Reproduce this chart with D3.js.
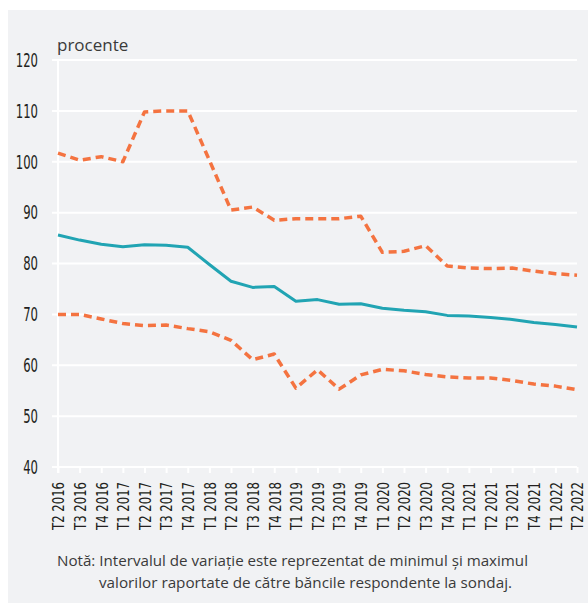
<!DOCTYPE html>
<html>
<head>
<meta charset="utf-8">
<script src="https://cdn.jsdelivr.net/npm/d3@7"></script>
<style>
  html, body { margin: 0; padding: 0; background: #ffffff; }
  #chart-container { width: 588px; height: 603px; }
</style>
</head>
<body>
<div id="chart-container"></div>
<script>
// quarters on the x axis
var quarters = [
  'T2 2016', 'T3 2016', 'T4 2016',
  'T1 2017', 'T2 2017', 'T3 2017', 'T4 2017',
  'T1 2018', 'T2 2018', 'T3 2018', 'T4 2018',
  'T1 2019', 'T2 2019', 'T3 2019', 'T4 2019',
  'T1 2020', 'T2 2020', 'T3 2020', 'T4 2020',
  'T1 2021', 'T2 2021', 'T3 2021', 'T4 2021',
  'T1 2022', 'T2 2022'
];

// average value (solid line)
var average = [
  85.6, 84.6, 83.8,
  83.3, 83.7, 83.6, 83.2,
  79.8, 76.5, 75.3, 75.5,
  72.6, 72.9, 72.0, 72.1,
  71.2, 70.8, 70.5, 69.8,
  69.7, 69.4, 69.0, 68.4,
  68.0, 67.5
];

// maximum reported (upper dashed line)
var maximum = [
  101.7, 100.3, 101.0,
  100.0, 109.8, 110.0, 110.0,
  100.3, 90.5, 91.1, 88.5,
  88.8, 88.8, 88.8, 89.3,
  82.2, 82.4, 83.5, 79.5,
  79.1, 79.0, 79.1, 78.5,
  78.0, 77.7
];

// minimum reported (lower dashed line)
var minimum = [
  70.0, 70.0, 69.1,
  68.2, 67.8, 67.9, 67.2,
  66.6, 64.9, 61.1, 62.2,
  55.5, 59.1, 55.3, 58.1,
  59.2, 58.9, 58.2, 57.7,
  57.5, 57.5, 57.0, 56.3,
  55.9, 55.2
];

var yTicks = [40, 50, 60, 70, 80, 90, 100, 110, 120];

var unitLabel = 'procente';
var noteLines = [
  'Notă: Intervalul de variație este reprezentat de minimul și maximul',
  'valorilor raportate de către băncile respondente la sondaj.'
];

document.addEventListener('DOMContentLoaded', function() {
  draw();
});

function draw() {
  const svgWidth = 588;
  const svgHeight = 603;

  const svg = d3.select('#chart-container')
    .append('svg')
    .attr('width', svgWidth)
    .attr('height', svgHeight);

  // grey panel behind everything
  svg.append('rect')
    .attr('x', 8)
    .attr('y', 10)
    .attr('width', svgWidth - 8)
    .attr('height', svgHeight - 10)
    .attr('fill', '#f1f2f4');

  const x = d3.scalePoint()
    .domain(quarters)
    .range([58, 577]);

  const y = d3.scaleLinear()
    .domain([40, 120])
    .range([467, 60]);

  const narrow = '"Liberation Sans Narrow", "DejaVu Sans Condensed", sans-serif';

  // horizontal grid lines
  svg.append('g')
    .selectAll('line')
    .data(yTicks)
    .enter()
    .append('line')
    .attr('x1', 52)
    .attr('x2', 577)
    .attr('y1', function(d) { return y(d); })
    .attr('y2', function(d) { return y(d); })
    .attr('stroke', '#ffffff')
    .attr('stroke-width', 2);

  // vertical axis line
  svg.append('line')
    .attr('x1', x(quarters[0]))
    .attr('x2', x(quarters[0]))
    .attr('y1', y(120))
    .attr('y2', y(40) + 6)
    .attr('stroke', '#ffffff')
    .attr('stroke-width', 2);

  // y labels, squeezed to the narrow width of the original face
  svg.append('g')
    .selectAll('text')
    .data(yTicks)
    .enter()
    .append('text')
    .attr('x', 38)
    .attr('y', function(d) { return y(d); })
    .attr('dy', '0.36em')
    .attr('text-anchor', 'end')
    .attr('font-family', narrow)
    .attr('font-size', 19)
    .attr('fill', '#231f20')
    .attr('textLength', function(d) { return String(d).length * 7.4; })
    .attr('lengthAdjust', 'spacingAndGlyphs')
    .text(function(d) { return d; });

  // x axis ticks and labels
  const xAxis = svg.append('g')
    .attr('transform', 'translate(0,' + y(40) + ')')
    .call(d3.axisBottom(x).tickSize(6).tickPadding(8));
  xAxis.select('.domain').remove();
  xAxis.selectAll('.tick line')
    .attr('stroke', '#ffffff')
    .attr('stroke-width', 2);
  xAxis.selectAll('.tick text')
    .attr('transform', 'rotate(-90)')
    .attr('text-anchor', 'end')
    .attr('x', -15)
    .attr('y', 0)
    .attr('dy', '0.36em')
    .attr('font-family', narrow)
    .attr('font-size', 16)
    .attr('fill', '#231f20')
    .attr('textLength', 48)
    .attr('lengthAdjust', 'spacingAndGlyphs');

  const line = d3.line()
    .x(function(d, i) { return x(quarters[i]); })
    .y(function(d) { return y(d); });

  [minimum, maximum].forEach(function(series) {
    svg.append('path')
      .datum(series)
      .attr('fill', 'none')
      .attr('stroke', '#f47340')
      .attr('stroke-width', 3.5)
      .attr('stroke-dasharray', '8,5')
      .attr('stroke-linejoin', 'round')
      .attr('d', line);
  });

  svg.append('path')
    .datum(average)
    .attr('fill', 'none')
    .attr('stroke', '#21a4b3')
    .attr('stroke-width', 3)
    .attr('stroke-linejoin', 'round')
    .attr('d', line);

  // unit label
  svg.append('text')
    .attr('x', 57)
    .attr('y', 51)
    .attr('font-family', '"Open Sans", sans-serif')
    .attr('font-size', 17)
    .attr('fill', '#3a3a3a')
    .text(unitLabel);

  // note below the chart
  svg.append('text')
    .attr('x', 57)
    .attr('y', 566)
    .attr('font-family', '"Open Sans", sans-serif')
    .attr('font-size', 14.5)
    .attr('fill', '#3a3a3a')
    .attr('textLength', 471)
    .attr('lengthAdjust', 'spacingAndGlyphs')
    .text(noteLines[0]);

  svg.append('text')
    .attr('x', 99)
    .attr('y', 588)
    .attr('font-family', '"Open Sans", sans-serif')
    .attr('font-size', 14.5)
    .attr('fill', '#3a3a3a')
    .attr('textLength', 413)
    .attr('lengthAdjust', 'spacingAndGlyphs')
    .text(noteLines[1]);
}
</script>
</body>
</html>
